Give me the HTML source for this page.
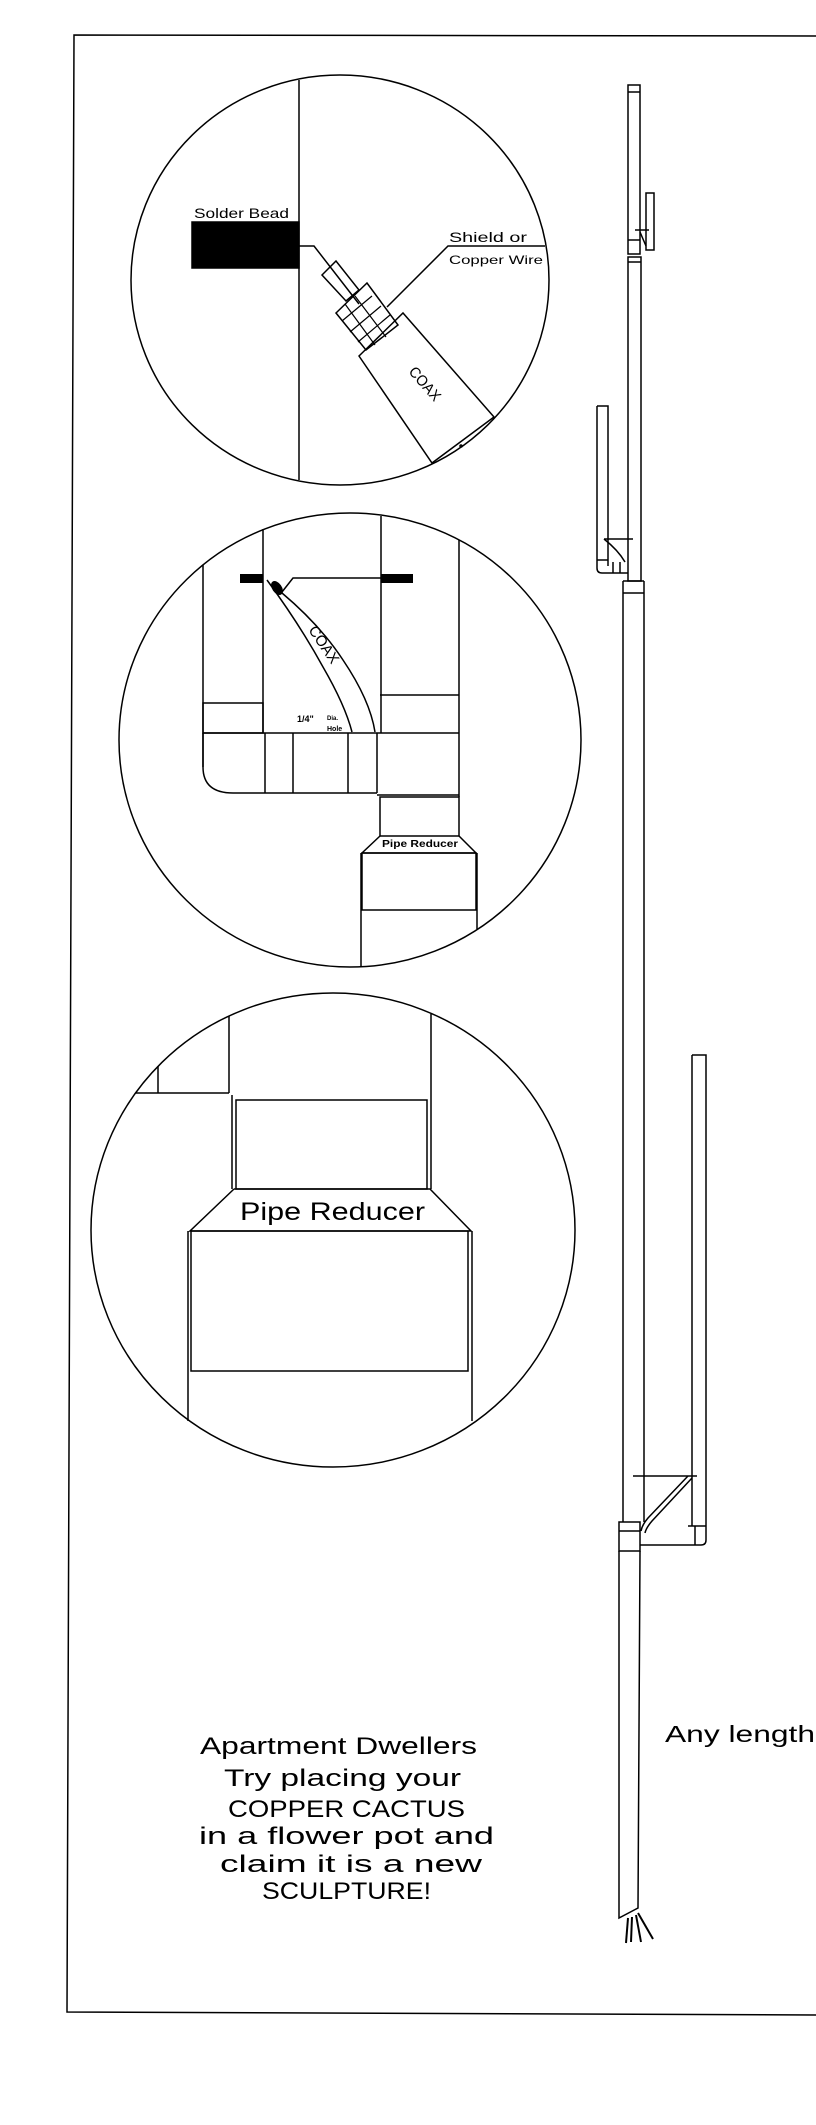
<!DOCTYPE html>
<html><head><meta charset="utf-8"><style>
html,body{margin:0;padding:0;background:#fff;}
svg{display:block;}
text{font-family:"Liberation Sans",sans-serif;fill:#000;}
</style></head><body>
<svg width="816" height="2125" viewBox="0 0 816 2125" xmlns="http://www.w3.org/2000/svg">
<g fill="none" stroke="#000" stroke-width="1.5">
<!-- frame -->
<polyline points="816,36 74,35 67,2012 816,2015"/>

<!-- Circle 1 -->
<ellipse cx="340" cy="280" rx="209" ry="205"/>
<line x1="299" y1="80" x2="299" y2="480"/>
<rect x="192" y="222" width="107" height="46" fill="#000"/>
<polyline points="299,246 314,246 359,304"/>
<polygon points="322,275 336,261 359,290 346,301"/>
<polygon points="336,313 367,283 398,325 366,350"/>
<g stroke-width="1.2">
<line x1="342" y1="321" x2="372" y2="296"/><line x1="350" y1="332" x2="381" y2="306"/><line x1="358" y1="342" x2="390" y2="315"/>
<line x1="345" y1="304" x2="375" y2="345"/><line x1="355" y1="296" x2="386" y2="337"/>
</g>
<polygon points="359,356 403,313 494,417 432,463"/>
<polyline points="545,246 448,246 387,307"/>
<circle cx="461" cy="446" r="1"/>

<!-- Circle 2 -->
<ellipse cx="350" cy="740" rx="231" ry="227"/>
<line x1="203" y1="565" x2="203" y2="767"/>
<line x1="263" y1="529" x2="263" y2="733"/>
<line x1="381" y1="516" x2="381" y2="733"/>
<line x1="459" y1="540" x2="459" y2="797"/>
<rect x="240" y="574" width="23" height="9" fill="#000" stroke="none"/>
<rect x="381" y="574" width="32" height="9" fill="#000" stroke="none"/>
<polyline points="282,592 293,578 381,578"/>
<path d="M267,580 Q300,625 323,667 Q345,705 352,732"/>
<path d="M282,593 Q320,625 343,660 Q370,700 375,732"/>
<ellipse cx="277" cy="588" rx="4" ry="7" fill="#000" transform="rotate(-35 277 588)"/>
<rect x="203" y="703" width="60" height="30"/>
<line x1="203" y1="733" x2="459" y2="733"/>
<path d="M203,733 L203,767 Q203,793 233,793 L377,793"/>
<line x1="265" y1="733" x2="265" y2="793"/>
<line x1="293" y1="733" x2="293" y2="793"/>
<line x1="348" y1="733" x2="348" y2="793"/>
<line x1="377" y1="733" x2="377" y2="793"/>
<line x1="380" y1="695" x2="459" y2="695"/>
<rect x="380" y="797" width="79" height="39"/>
<line x1="377" y1="795" x2="459" y2="795"/>
<polyline points="380,836 362,853 476,853 459,836"/>
<rect x="362" y="853" width="114" height="57"/>
<line x1="361" y1="853" x2="361" y2="967"/>
<line x1="477" y1="853" x2="477" y2="929"/>

<!-- Circle 3 -->
<ellipse cx="333" cy="1230" rx="242" ry="237"/>
<line x1="229" y1="1016" x2="229" y2="1093"/>
<line x1="158" y1="1066" x2="158" y2="1093"/>
<line x1="136" y1="1093" x2="229" y2="1093"/>
<line x1="232" y1="1095" x2="232" y2="1189"/>
<line x1="431" y1="1014" x2="431" y2="1189"/>
<rect x="236" y="1100" width="191" height="89"/>
<polyline points="234,1189 190,1231 471,1231 430,1189 234,1189"/>
<rect x="191" y="1231" width="277" height="140"/>
<line x1="188" y1="1231" x2="188" y2="1421"/>
<line x1="472" y1="1231" x2="472" y2="1421"/>

<!-- Antenna -->
<rect x="628" y="85" width="12" height="169"/>
<line x1="628" y1="92" x2="640" y2="92"/>
<line x1="628" y1="240" x2="640" y2="240"/>
<rect x="646" y="193" width="8" height="57"/>
<line x1="635" y1="230" x2="649" y2="230"/>
<line x1="640" y1="232" x2="646" y2="246"/>
<rect x="628" y="257" width="13" height="324"/>
<line x1="628" y1="262" x2="641" y2="262"/>
<path d="M597,406 L608,406 L608,566 M597,406 L597,568 Q597,573 602,573 L628,573"/>
<line x1="597" y1="560" x2="608" y2="560"/>
<line x1="604" y1="539" x2="633" y2="539"/>
<path d="M604,539 Q618,550 625,562"/>
<line x1="613" y1="562" x2="613" y2="573"/>
<line x1="620" y1="562" x2="620" y2="573"/>
<line x1="623" y1="581" x2="623" y2="1522"/>
<line x1="644" y1="581" x2="644" y2="1522"/>
<line x1="623" y1="593" x2="644" y2="593"/>
<line x1="623" y1="581" x2="644" y2="581"/>
<path d="M692,1055 L706,1055 L706,1540 Q706,1545 701,1545 L640,1545 M692,1055 L692,1526"/>
<line x1="688" y1="1526" x2="706" y2="1526"/>
<line x1="695" y1="1526" x2="695" y2="1545"/>
<line x1="633" y1="1476" x2="697" y2="1476"/>
<path d="M688,1476 L648,1518 Q642,1525 641,1531"/>
<path d="M692,1478 L652,1521 Q646,1528 645,1533"/>
<rect x="619" y="1522" width="21" height="29"/>
<line x1="619" y1="1531" x2="640" y2="1531"/>
<polyline points="619,1551 619,1918 638,1908 640,1551"/>
<g stroke-width="2">
<line x1="628" y1="1918" x2="626" y2="1943"/>
<line x1="632" y1="1917" x2="631" y2="1942"/>
<line x1="636" y1="1915" x2="641" y2="1942"/>
<line x1="638" y1="1913" x2="653" y2="1939"/>
</g>
</g>

<!-- Text -->
<text x="194" y="218" font-size="14" textLength="95" lengthAdjust="spacingAndGlyphs">Solder Bead</text>
<text x="449" y="242" font-size="14" textLength="78" lengthAdjust="spacingAndGlyphs">Shield or</text>
<text x="449" y="264" font-size="12" textLength="94" lengthAdjust="spacingAndGlyphs">Copper Wire</text>
<text x="0" y="0" font-size="15" transform="translate(408,372) rotate(49)" textLength="40" lengthAdjust="spacingAndGlyphs">COAX</text>
<text x="0" y="0" font-size="15" transform="translate(308,630) rotate(56)" textLength="42" lengthAdjust="spacingAndGlyphs">COAX</text>
<text x="297" y="722" font-size="9" font-weight="bold">1/4"</text>
<text x="327" y="720" font-size="6" font-weight="bold">Dia.</text>
<text x="327" y="731" font-size="7" font-weight="bold">Hole</text>
<text x="382" y="847" font-size="10" font-weight="bold" textLength="76" lengthAdjust="spacingAndGlyphs">Pipe Reducer</text>
<text x="240" y="1220" font-size="25" textLength="185" lengthAdjust="spacingAndGlyphs">Pipe Reducer</text>
<g font-size="24">
<text x="200" y="1754" textLength="277" lengthAdjust="spacingAndGlyphs">Apartment Dwellers</text>
<text x="224" y="1786" textLength="237" lengthAdjust="spacingAndGlyphs">Try placing your</text>
<text x="228" y="1817" textLength="237" lengthAdjust="spacingAndGlyphs">COPPER CACTUS</text>
<text x="199" y="1844" textLength="295" lengthAdjust="spacingAndGlyphs">in a flower pot and</text>
<text x="220" y="1872" textLength="262" lengthAdjust="spacingAndGlyphs">claim it is a new</text>
<text x="262" y="1899" textLength="169" lengthAdjust="spacingAndGlyphs">SCULPTURE!</text>
</g>
<text x="665" y="1742" font-size="23" textLength="150" lengthAdjust="spacingAndGlyphs">Any length</text>
</svg>
</body></html>
